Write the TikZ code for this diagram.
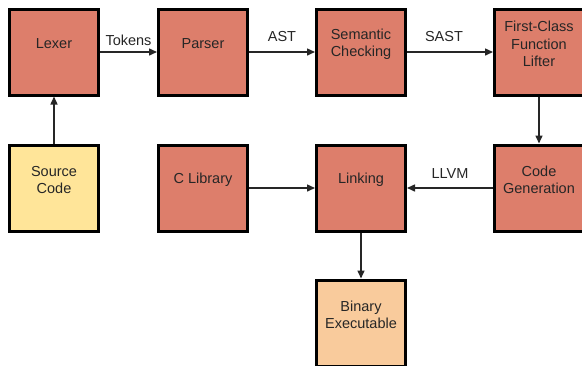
\documentclass[tikz,border=0pt]{standalone}
\usepackage{fontspec}
\setmainfont{Liberation Sans}
\usetikzlibrary{arrows.meta}

\definecolor{stagered}{HTML}{DD7E6B}
\definecolor{inyellow}{HTML}{FFE599}
\definecolor{outorange}{HTML}{F9CB9C}
\newcommand{\diagfont}{\fontsize{14.5}{17.5}\selectfont}

\begin{document}
\begin{tikzpicture}[x=1pt,y=-1pt,
  stage/.style={draw=black, line width=3pt, minimum width=89pt, minimum height=86pt, inner sep=0pt, fill=stagered},
  boxtext/.style={font=\diagfont, align=center, yshift=8pt, text=black!85},
  flow/.style={line width=1.5pt, draw=black!85, -{Triangle[length=8pt,width=7pt]}},
  flowlbl/.style={font=\diagfont, inner sep=0pt, text=black!85}]
\useasboundingbox (0,0) rectangle (582,365);
\clip (0,0) rectangle (582,365);

% compiler stages, top row
\node[stage, label={[boxtext]center:Lexer}] (lexer) at (54,52) {};
\node[stage, label={[boxtext]center:Parser}] (parser) at (203,52) {};
\node[stage, label={[boxtext]center:{Semantic\\Checking}}] (semck) at (361,52) {};
\node[stage, label={[boxtext]center:{First-Class\\Function\\Lifter}}] (lifter) at (539,52) {};

% middle row
\node[stage, fill=inyellow, label={[boxtext]center:{Source\\Code}}] (source) at (54,188) {};
\node[stage, label={[boxtext]center:C Library}] (clib) at (203,188) {};
\node[stage, label={[boxtext]center:Linking}] (linking) at (361,188) {};
\node[stage, label={[boxtext]center:{Code\\Generation}}] (codegen) at (539,188) {};

% output
\node[stage, fill=outorange, label={[boxtext]center:{Binary\\Executable}}] (binary) at (361,323) {};

% connectors
\draw[flow] (source) -- (lexer);
\draw[flow] (lexer) -- node[flowlbl, above=6pt] {Tokens} (parser);
\draw[flow] (parser) -- node[flowlbl, above=10pt] {AST} (semck);
\draw[flow] (semck) -- node[flowlbl, above=10pt, xshift=-6pt] {SAST} (lifter);
\draw[flow] (lifter) -- (codegen);
\draw[flow] (codegen) -- node[flowlbl, above=9pt] {LLVM} (linking);
\draw[flow] (clib) -- (linking);
\draw[flow] (linking) -- (binary);

\end{tikzpicture}
\end{document}
